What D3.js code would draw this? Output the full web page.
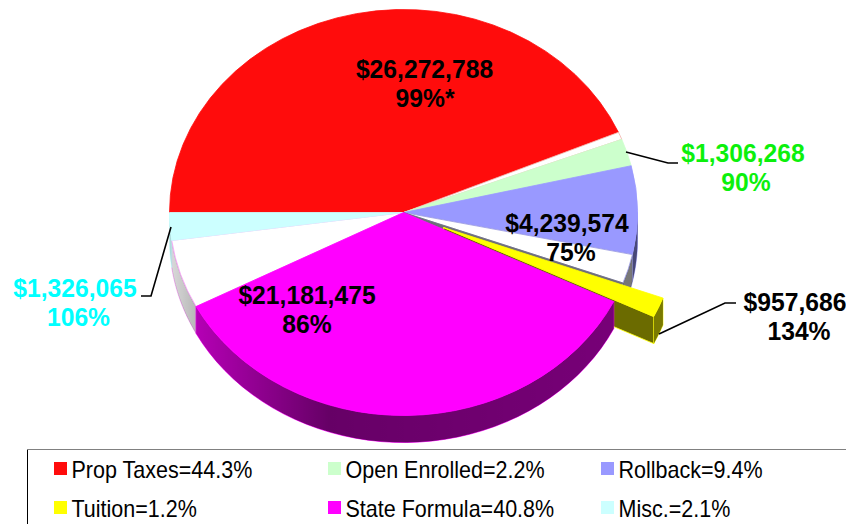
<!DOCTYPE html>
<html><head><meta charset="utf-8">
<script src="https://cdnjs.cloudflare.com/ajax/libs/d3/7.8.5/d3.min.js"></script>
<style>html,body{margin:0;padding:0;background:#fff;overflow:hidden}svg{display:block}text{font-family:"Liberation Sans",Arial,sans-serif}</style>
</head><body><svg id="c" width="846" height="524"></svg>
<script>
// Slices in drawing order, clockwise from 9 o'clock. gap* = unlabelled white gaps (estimated).
const sliceNames = ["Prop Taxes","gapA","Open Enrolled","Rollback","gapB","Tuition","State Formula","gapC","Misc."];
const sliceValues = [26272788,360000,1306268,4239574,1400000,957686,21181475,3300000,1326065];
const sliceColors = ["#ff0c0c","#ffffff","#ccffcc","#9999ff","#ffffff","#ffff00","#ff00ff","#ffffff","#ccffff"];
const sliceEdges  = ["#ff0c0c","#f0b0a8","#ccffcc","#9999ff","#9a9ae0","#ffff00","#ff00ff","#f4a0f4","#ccffff"];

const legendNames = ["Prop Taxes","Open Enrolled","Rollback","Tuition","State Formula","Misc."];
const legendShares = ["44.3%","2.2%","9.4%","1.2%","40.8%","2.1%"];
const legendColors = ["#ff0c0c","#ccffcc","#9999ff","#ffff00","#ff00ff","#ccffff"];

const labelAmounts = ["$26,272,788","$1,306,268","$4,239,574","$957,686","$21,181,475","$1,326,065"];
const labelPercents = ["99%*","90%","75%","134%","86%","106%"];
const labelColors = ["#000","#0cf00c","#000","#000","#000","#00ffff"];

const W=846,cx=403.5,cy=212.5,rx=234,ry=203,depth=27,R=100;
const svg=d3.select("#c");
const defs=svg.append("defs");
const grad=defs.append("linearGradient").attr("id","shade").attr("gradientUnits","userSpaceOnUse")
  .attr("x1",cx-rx).attr("x2",cx+rx+30).attr("y1",0).attr("y2",0);
[[0,.14],[.06,.30],[.32,.6],[1,.52]].forEach(s=>grad.append("stop").attr("offset",s[0]).attr("stop-color","#000").attr("stop-opacity",s[1]));

const pie=d3.pie().sort(null).value(d=>d.v).startAngle(-Math.PI/2).endAngle(3*Math.PI/2);
const arcs=pie(sliceNames.map((n,i)=>({n,v:sliceValues[i],c:sliceColors[i],e:sliceEdges[i]})));
const arc=d3.arc().innerRadius(0).outerRadius(R);
const sx=d3.scaleLinear().domain([-1,1]).range([cx-rx,cx+rx]);
const sy=d3.scaleLinear().domain([-1,1]).range([cy-ry,cy+ry]);
const pt=(a,dx=0,dy=0)=>[sx(Math.sin(a))+dx,sy(-Math.cos(a))+dy];
const line=d3.line();

function wall(par,a0,a1,d,dx=0,dy=0){
  const lo=Math.max(a0,Math.PI/2),hi=Math.min(a1,3*Math.PI/2);
  if(hi<=lo) return;
  const pts=d3.range(0,41).map(i=>lo+(hi-lo)*i/40);
  const top=pts.map(a=>pt(a,dx,dy)), bot=pts.slice().reverse().map(a=>pt(a,dx,dy+depth));
  const p=line(top.concat(bot))+"Z";
  par.append("path").attr("d",p).attr("fill",d.data.c).attr("stroke",d.data.e).attr("stroke-width",.8);
  par.append("path").attr("d",p).attr("fill","url(#shade)");
}
function face(par,d,dx=0,dy=0,fill,stroke){
  par.append("path").attr("transform",`translate(${cx+dx},${cy+dy}) scale(${rx/R},${ry/R})`)
    .attr("d",arc(d)).attr("fill",fill||d.data.c).attr("stroke",stroke||d.data.e)
    .attr("stroke-width",.8).attr("vector-effect","non-scaling-stroke");
}
const yi=sliceNames.indexOf("Tuition"), mi=sliceNames.indexOf("State Formula");
const pie3=svg.append("g");
arcs.forEach((d,i)=>{if(i!==yi&&i!==mi) wall(pie3,d.startAngle,d.endAngle,d);});
arcs.forEach((d,i)=>{if(i!==yi&&i!==mi) face(pie3,d);});
// empty slot left behind by the exploded slice
face(pie3,arcs[yi],0,0,"#6e6e78","#6e6e78");
// exploded slice
const Y=arcs[yi],ox=40,oy=15;
const apex=[cx+ox,cy+oy],corner=pt(Y.endAngle,ox,oy);
pie3.append("path").attr("d",line([apex,corner,[corner[0],corner[1]+depth],[apex[0],apex[1]+depth]])+"Z")
  .attr("fill","#6b6b00").attr("stroke","#ffff00").attr("stroke-width",.8);
wall(pie3,Y.startAngle,Y.endAngle,Y,ox,oy);
face(pie3,Y,ox,oy);
// front slice
wall(pie3,arcs[mi].startAngle,arcs[mi].endAngle,arcs[mi]);
face(pie3,arcs[mi]);

// leader lines
const leaderData=[
  [[626,152],[668,163],[678,163]],
  [[171,227],[151,296],[141,296]],
  [[659,334],[725,303],[736,303]]];
leaderData.forEach(l=>svg.append("path").attr("d",line(l)).attr("fill","none").attr("stroke","#000").attr("stroke-width",1.6));

// data labels (original text is slightly condensed)
const amountX=[424.5,743,567,795,307,75];
const percentX=[425,746,571,799,307,78.5];
const labelY=[78,162,232,311,304,297];
labelAmounts.forEach((t,i)=>{
  const g=svg.append("g").attr("font-weight","bold").attr("font-size",26.4).attr("text-anchor","middle").attr("fill",labelColors[i]);
  g.append("text").attr("transform",`translate(${amountX[i]},${labelY[i]}) scale(.935,1)`).text(t);
  g.append("text").attr("transform",`translate(${percentX[i]},${labelY[i]+28.5}) scale(.935,1)`).text(labelPercents[i]);
});

// legend
svg.append("path").attr("d",line([[27.5,524],[27.5,449.5]])).attr("fill","none").attr("stroke","#000").attr("stroke-width",1);
svg.append("path").attr("d",line([[27,449.5],[W,449.5]])).attr("fill","none").attr("stroke","#808080").attr("stroke-width",1.2);
const colX=d3.scaleOrdinal().domain([0,1,2]).range([54,328,601]);
const rowY=d3.scaleOrdinal().domain([0,1]).range([462,501]);
legendNames.forEach((n,i)=>{
  const c=i%3,r=Math.floor(i/3),x=colX(c),y=rowY(r);
  svg.append("rect").attr("x",x).attr("y",y).attr("width",13).attr("height",13).attr("fill",legendColors[i]);
  svg.append("text").attr("transform",`translate(${x+17.5},${y+15.5}) scale(.92,1)`).attr("font-size",23.4).attr("fill","#000").text(n+"="+legendShares[i]);
});
</script></body></html>
